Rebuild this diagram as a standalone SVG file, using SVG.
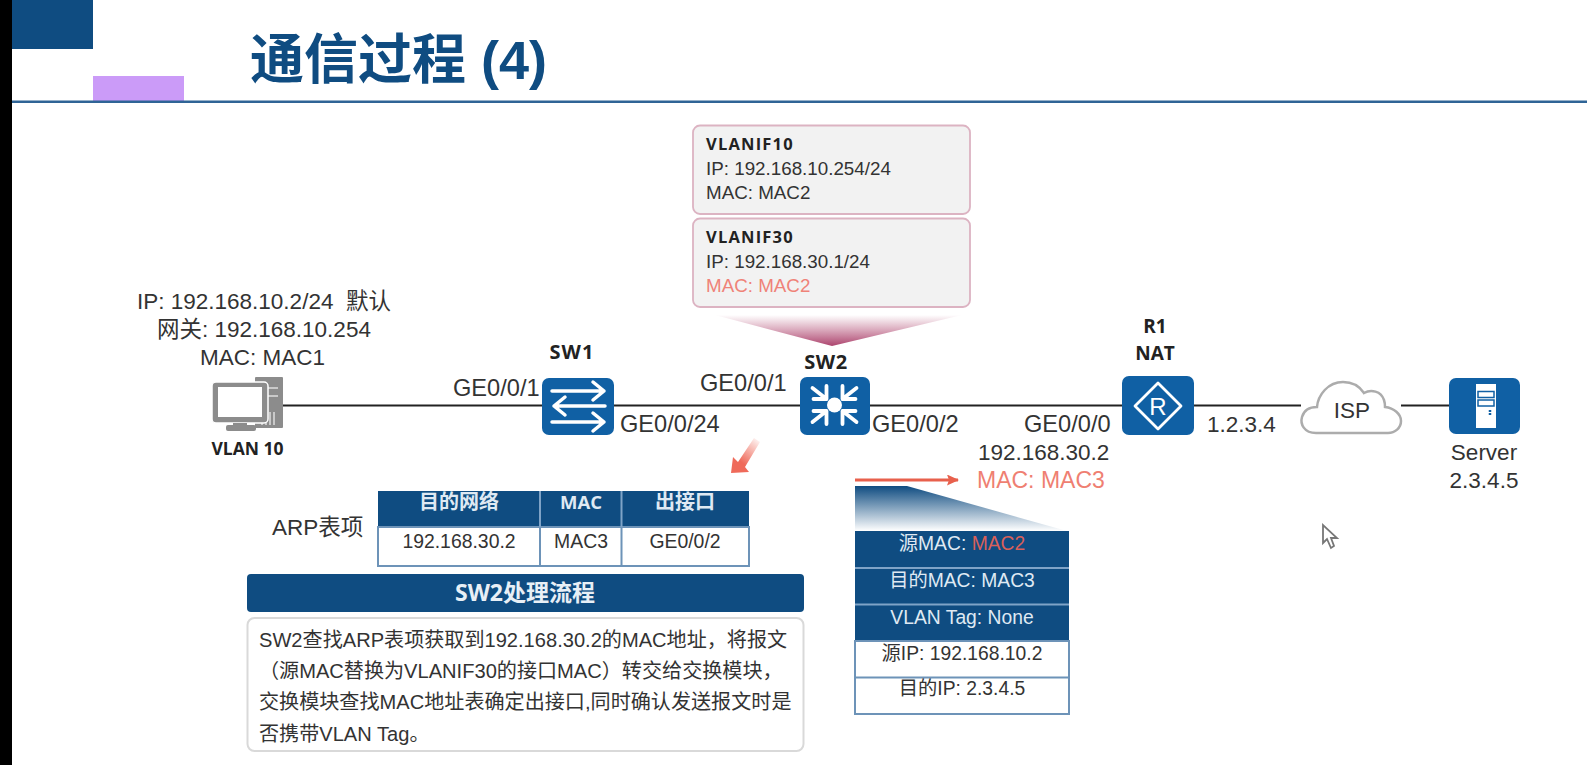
<svg xmlns="http://www.w3.org/2000/svg" width="1587" height="765" viewBox="0 0 1587 765">
<style>
text{font-family:"Liberation Sans","Noto Sans CJK SC",sans-serif;fill:#333;font-size:22.500px;white-space:pre}
.b{font-family:"Open Sans","Noto Sans CJK SC",sans-serif;font-weight:700;fill:#222}
.m{text-anchor:middle}
.red{fill:#ef8278}
.w{fill:#dfe9f3}
.dev{fill:#1060a4}
.ic{fill:none;stroke:#fff;stroke-width:3.500;stroke-linecap:round;stroke-linejoin:round}
.link{fill:none;stroke:#222;stroke-width:2}
.call{fill:#f2f2f2;stroke:#dcb3c2;stroke-width:1.800}
.c{font-size:18.800px}
.t{font-size:20.100px}
.p{font-size:19.300px}
.ge{font-size:23.600px}
.gray{fill:#8c8c8c}
.hd{fill:#0f4c81}
.sep{stroke:#7fa3c7;stroke-width:2;fill:none}
.bd{stroke:#6d93b8;stroke-width:2;fill:none}
</style>
<defs>
<linearGradient id="funnel" x1="0" y1="0" x2="0" y2="1"><stop offset="0" stop-color="#b24a72" stop-opacity="0"/><stop offset="1" stop-color="#a83a66" stop-opacity=".95"/></linearGradient>
<linearGradient id="pktg" x1="0" y1="0" x2="0" y2="1"><stop offset="0" stop-color="#0f4c81"/><stop offset="1" stop-color="#0f4c81" stop-opacity="0"/></linearGradient>
<linearGradient id="fade" gradientUnits="userSpaceOnUse" x1="760" y1="438" x2="735" y2="470"><stop offset="0" stop-color="#ef6a5a" stop-opacity="0"/><stop offset=".75" stop-color="#ef6a5a"/></linearGradient>
<marker id="ah" markerUnits="userSpaceOnUse" markerWidth="12" markerHeight="11" refX="11" refY="5.500" orient="auto"><path d="M0 0L12 5.500L0 11L2 5.500Z" fill="#e8604c"/></marker>
<path id="sw2a" class="ic" style="stroke-width:3.800" d="M-22 -17L-8 -6M-8 -19V-6H-21"/>
</defs>
<rect width="1587" height="765" fill="#fff"/>
<g id="header">
<rect x="0" y="0" width="12" height="765" fill="#000"/>
<rect x="12" y="0" width="81" height="49" fill="#0f4c81"/>
<rect x="93" y="76" width="91" height="25" fill="#cb9bf8"/>
<rect x="12" y="100.500" width="1575" height="2.500" fill="#2f6496"/>
<text x="250" y="79" style="font-size:54px;font-weight:700;fill:#0f4c81">通信过程 (4)</text>
</g>
<g id="connectors">
<path class="link" d="M283 405.500H1301M1401 405.500H1450"/>
<path d="M855 480H958" fill="none" stroke="#e8604c" stroke-width="2.800" marker-end="url(#ah)"/>
<polygon points="731,473 733,457 738,462 754,438 760,442 745,467 749,472" fill="url(#fade)"/>
<polygon points="715,315 962,315 832,346" fill="url(#funnel)"/>
<polygon points="855,486 907,486 1067,531 855,531" fill="url(#pktg)"/>
</g>
<g id="pc">
<rect x="255" y="377" width="28" height="51" rx="1" class="gray"/>
<path d="M261 388H278M261 396H278M262 425V412M266 425V412M270 425V412M274 425V412" stroke="#ddd" stroke-width="1.500" fill="none"/>
<rect x="212" y="382" width="56" height="41" rx="4" class="gray" stroke="#fff" stroke-width="1.500"/>
<rect x="218" y="387" width="44" height="30" fill="#fff"/>
<rect x="233" y="423" width="14" height="4" class="gray"/>
<rect x="226" y="425" width="30" height="6" rx="2" class="gray"/>
<text x="247.500" y="455" class="b m" style="font-size:17.500px">VLAN 10</text>
<text x="137" y="309">IP: 192.168.10.2/24  默认</text>
<text x="157" y="337">网关: 192.168.10.254</text>
<text x="200" y="365">MAC: MAC1</text>
</g>
<g id="sw1">
<rect x="542" y="378" width="72" height="57" rx="7" class="dev"/>
<path class="ic" d="M552 391H604M593 382L604 391L593 400M605 406H554M565 397L554 406L565 415M552 422H604M593 413L604 422L593 431"/>
<text x="572" y="359" class="b m" style="font-size:20px;letter-spacing:1px">SW1</text>
<text x="453" y="396" class="ge">GE0/0/1</text>
<text x="620" y="432" class="ge">GE0/0/24</text>
</g>
<g id="sw2">
<rect x="800" y="377" width="70" height="58" rx="7" class="dev"/>
<circle cx="834.500" cy="405" r="7.500" fill="#fff"/>
<use href="#sw2a" transform="translate(834.500 405)"/>
<use href="#sw2a" transform="translate(834.500 405) scale(-1 1)"/>
<use href="#sw2a" transform="translate(834.500 405) scale(1 -1)"/>
<use href="#sw2a" transform="translate(834.500 405) scale(-1 -1)"/>
<text x="826" y="369" class="b m" style="font-size:20px;letter-spacing:.5px">SW2</text>
<text x="700" y="391" class="ge">GE0/0/1</text>
<text x="872" y="432" class="ge">GE0/0/2</text>
</g>
<g id="vlanif10">
<rect x="693" y="125.500" width="277" height="88.500" rx="7" class="call"/>
<text x="706" y="150" class="b" style="font-size:16.500px;letter-spacing:1.200px">VLANIF10</text>
<text x="706" y="175" class="c">IP: 192.168.10.254/24</text>
<text x="706" y="199" class="c">MAC: MAC2</text>
</g>
<g id="vlanif30">
<rect x="693" y="218.500" width="277" height="88.500" rx="7" class="call"/>
<text x="706" y="243" class="b" style="font-size:16.500px;letter-spacing:1.200px">VLANIF30</text>
<text x="706" y="268" class="c">IP: 192.168.30.1/24</text>
<text x="706" y="292" class="c red">MAC: MAC2</text>
</g>
<g id="r1">
<rect x="1122" y="376" width="72" height="59" rx="7" class="dev"/>
<path class="ic" style="stroke-width:2.800" d="M1158 383L1181 406L1158 429L1135 406Z"/>
<text x="1158" y="415" class="m" style="font-size:24px;fill:#fff">R</text>
<text x="1155" y="333" class="b m" style="font-size:19px">R1</text>
<text x="1155" y="360" class="b m" style="font-size:19px">NAT</text>
<text x="1024" y="432" class="ge">GE0/0/0</text>
<text x="978" y="460">192.168.30.2</text>
<text x="977" y="488" class="red" style="font-size:23px;fill:#ef7f72">MAC: MAC3</text>
<text x="1207" y="432">1.2.3.4</text>
</g>
<g id="isp">
<path d="M1316 433C1304 433 1300 424 1302 417C1304 410 1310 407 1317 407C1318 395 1328 382 1343 382C1353 382 1360 387 1364 393C1371 389 1381 391 1384 400C1385 403 1385 405 1385 407C1394 408 1401 414 1401 421C1401 428 1395 433 1388 433Z" fill="#fff" stroke="#acacac" stroke-width="2.500"/>
<text x="1352" y="418" class="m">ISP</text>
</g>
<g id="server">
<rect x="1449" y="378" width="71" height="56" rx="7" class="dev"/>
<rect x="1476" y="384" width="20" height="44" fill="#fff"/>
<rect x="1478" y="391.500" width="16" height="6" fill="#fff" stroke="#1060a4" stroke-width="1.500"/>
<rect x="1478" y="400" width="16" height="6" fill="#fff" stroke="#1060a4" stroke-width="1.500"/>
<path d="M1490 410V415" stroke="#1060a4" stroke-width="2.500" stroke-dasharray="2 1"/>
<text x="1484" y="460" class="m">Server</text>
<text x="1484" y="488" class="m">2.3.4.5</text>
</g>
<g id="arp-table">
<text x="272" y="535">ARP表项</text>
<rect x="378" y="491" width="371" height="36" class="hd"/>
<rect x="378" y="527" width="371" height="39" class="bd"/>
<path class="sep" d="M540 491V527M621.500 491V527"/>
<path class="bd" d="M540 527V566M621.500 527V566"/>
<text x="459" y="509" class="m w" style="font-size:20px;font-weight:700">目的网络</text>
<text x="581" y="509" class="b m" style="font-size:18.500px;fill:#dfe9f3">MAC</text>
<text x="685" y="509" class="m w" style="font-size:20px;font-weight:700">出接口</text>
<text x="459" y="548" class="m" style="font-size:19.400px">192.168.30.2</text>
<text x="581" y="548" class="m" style="font-size:19.400px">MAC3</text>
<text x="685" y="548" class="m" style="font-size:19.400px">GE0/0/2</text>
</g>
<g id="process">
<rect x="247" y="574" width="557" height="38" rx="4" class="hd"/>
<text x="525" y="601" class="m" style="font-size:23px;font-weight:700;fill:#e8eff6;font-family:'Open Sans','Noto Sans CJK SC',sans-serif">SW2处理流程</text>
<rect x="247.500" y="618" width="556" height="133" rx="7" fill="#fff" stroke="#d9d9d9" stroke-width="2"/>
<text x="259" y="647" class="t">SW2查找ARP表项获取到192.168.30.2的MAC地址，将报文</text>
<text x="259" y="678" class="t">（源MAC替换为VLANIF30的接口MAC）转交给交换模块，</text>
<text x="259" y="709" class="t">交换模块查找MAC地址表确定出接口,同时确认发送报文时是</text>
<text x="259" y="741" class="t">否携带VLAN Tag。</text>
</g>
<g id="packet">
<rect x="855" y="531" width="214" height="110" class="hd"/>
<rect x="855" y="641" width="214" height="73" class="bd" style="fill:#fff"/>
<path class="sep" d="M855 568H1069M855 604.500H1069"/>
<path class="bd" d="M855 677.500H1069"/>
<text x="962" y="550" class="m p w">源MAC: <tspan style="fill:#d9605a">MAC2</tspan></text>
<text x="962" y="587" class="m p w">目的MAC: MAC3</text>
<text x="962" y="624" class="m p w">VLAN Tag: None</text>
<text x="962" y="660" class="m p">源IP: 192.168.10.2</text>
<text x="962" y="695" class="m p">目的IP: 2.3.4.5</text>
</g>
<path id="cursor" d="M1323 525V543L1327 539L1331 548L1334 546L1331 538L1337 538Z" fill="#fff" stroke="#777" stroke-width="1.800"/>
</svg>
